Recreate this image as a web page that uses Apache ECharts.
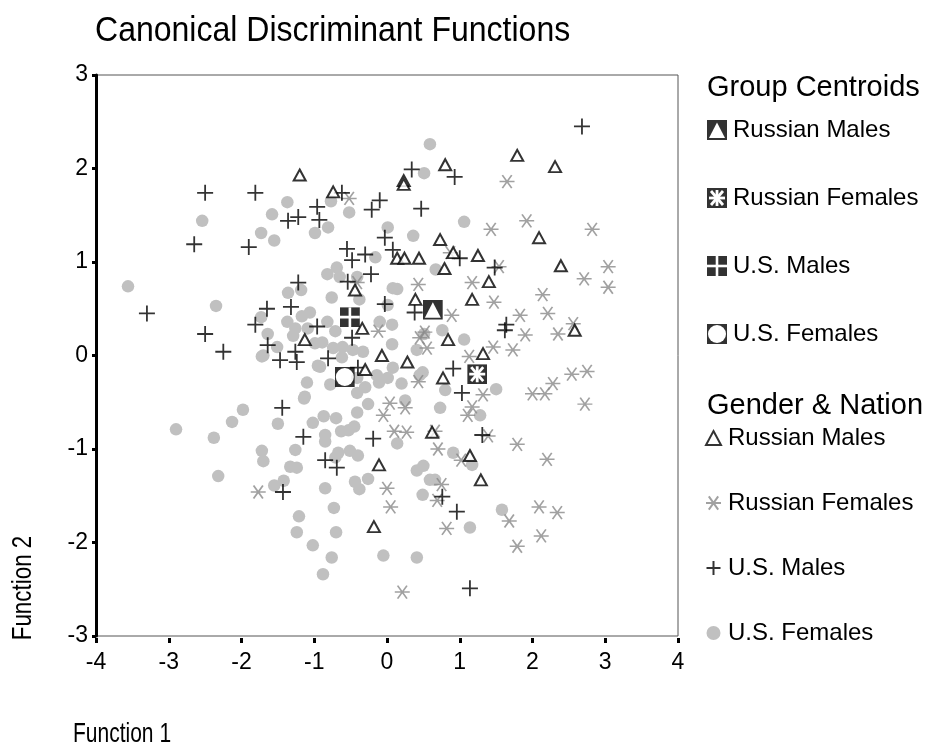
<!DOCTYPE html>
<html><head><meta charset="utf-8">
<script src="https://cdn.jsdelivr.net/npm/echarts@6/dist/echarts.min.js"></script>
<style>html,body{margin:0;padding:0;background:#fff}#c{width:938px;height:751px}</style>
</head><body><div id="c"></div>
<script>
// ---- Data (Function 1, Function 2) ----
const xTickValues = [-4, -3, -2, -1, 0, 1, 2, 3, 4];
const yTickValues = [-3, -2, -1, 0, 1, 2, 3];

const usMales = [
 [2.68,2.45],[-3.3,0.45],[-2.5,1.74],[-1.81,1.74],[-2.65,1.19],[-1.9,1.16],[-2.5,0.23],[-2.25,0.04],
 [-1.65,0.5],[-1.81,0.33],[-1.32,0.52],[-1.22,0.78],[-1.36,1.44],[-1.22,1.48],[-0.96,1.59],[-0.93,1.45],
 [-0.62,1.74],[-0.21,1.56],[-0.1,1.66],[-0.03,1.26],[-0.55,1.14],[-0.48,1.02],[-0.3,1.08],[-0.22,0.87],
 [-0.54,0.79],[-0.03,0.55],[-0.48,0.19],[-1.26,0.04],[-1.64,0.11],[0.34,1.99],[0.93,1.91],[0.47,1.57],
 [0.08,1.13],[0.38,0.46],[1.0,1.04],[1.48,0.94],[1.64,0.33],[1.62,0.27],[0.91,-0.14],[1.03,-0.4],
 [-1.47,-0.05],[-1.24,-0.07],[-0.81,-0.03],[-0.96,0.31],[-1.44,-0.56],[-1.15,-0.87],[-0.19,-0.89],
 [-0.85,-1.12],[-0.69,-1.2],[-1.43,-1.46],[-0.4,-0.13],[0.76,-1.51],[0.96,-1.67],[1.14,-2.49],[1.31,-0.85]
];
const russianMales = [
 [-1.2,1.93],[-0.74,1.75],[0.23,1.87],[0.23,1.83],[0.8,2.04],[1.79,2.14],[2.31,2.02],[2.09,1.26],
 [2.39,0.96],[2.58,0.27],[0.73,1.24],[0.91,1.1],[1.25,1.07],[0.14,1.04],[0.24,1.04],[0.44,1.04],
 [0.79,0.93],[1.4,0.79],[1.17,0.6],[0.39,0.6],[0.84,0.17],[1.32,0.02],[0.28,-0.07],[0.77,-0.24],
 [-0.44,0.7],[-0.34,0.29],[-1.13,0.17],[-0.07,0.0],[-0.3,-0.15],[-0.11,-1.17],[-0.18,-1.83],
 [0.62,-0.82],[1.14,-1.07],[1.29,-1.33]
];
const russianFemales = [
 [1.65,1.86],[1.92,1.44],[2.82,1.35],[1.43,1.35],[1.54,0.95],[3.04,0.95],[2.71,0.82],[3.04,0.73],
 [2.14,0.65],[2.21,0.45],[1.17,0.78],[1.47,0.57],[0.43,0.76],[0.89,0.43],[1.83,0.43],[1.9,0.22],
 [2.35,0.23],[2.56,0.34],[0.87,1.1],[0.52,0.25],[1.46,0.09],[1.73,0.06],[-0.52,1.68],[-0.41,0.78],
 [-0.12,0.26],[1.13,-0.01],[0.55,0.08],[0.45,0.19],[0.43,-0.28],[1.32,-0.42],[2.0,-0.41],[2.17,-0.41],
 [2.28,-0.3],[2.54,-0.2],[2.75,-0.17],[2.72,-0.52],[1.17,-0.55],[1.11,-0.64],[0.04,-0.51],[0.25,-0.56],
 [0.1,-0.81],[0.27,-0.82],[0.66,-0.81],[0.7,-1.0],[1.02,-1.12],[1.39,-0.86],[1.79,-0.95],[2.2,-1.11],
 [0.0,-1.42],[0.05,-1.62],[0.69,-1.55],[0.82,-1.85],[1.68,-1.77],[2.09,-1.62],[2.34,-1.68],[2.12,-1.93],
 [1.79,-2.04],[0.21,-2.53],[0.75,-1.38],[-0.05,-0.64],[-1.77,-1.46]
];
const usFemales = [
 [-3.56,0.74],[-2.54,1.44],[-2.35,0.53],[-1.73,1.31],[-1.55,1.23],[-1.58,1.51],[-1.37,1.64],[-0.99,1.31],
 [-0.81,1.37],[-0.77,1.65],[-0.52,1.53],[0.01,1.37],[-0.16,1.05],[-0.82,0.87],[-0.69,0.94],[-0.65,0.84],
 [-0.41,0.84],[-1.36,0.67],[-1.18,0.7],[-0.76,0.62],[-0.38,0.6],[0.08,0.72],[-1.17,0.42],[-1.06,0.46],
 [-1.37,0.36],[-1.26,0.29],[-1.73,0.41],[-1.64,0.23],[-1.51,0.09],[-1.09,0.29],[-0.82,0.36],[-0.71,0.26],
 [-0.99,0.13],[-0.89,0.14],[-0.1,0.36],[0.07,0.33],[0.07,0.12],
 [0.59,2.26],[0.51,1.95],[1.06,1.43],[0.36,1.28],[0.67,0.92],[0.14,0.71],[0.01,0.54],[0.51,0.23],
 [0.76,0.27],[1.06,0.17],[0.41,0.06],
 [-1.29,0.21],[-1.7,0.0],[-0.74,0.08],[-0.61,0.09],[-0.47,0.06],[-0.33,0.04],[-0.62,-0.02],[0.08,-0.13],
 [-0.95,-0.11],[-1.1,-0.29],[-0.78,-0.31],[-0.41,-0.24],[-0.3,-0.34],[-0.14,-0.21],[-1.13,-0.44],[0.2,-0.3],
 [-1.72,-0.01],[-0.92,-0.12],[-1.14,-0.46],[-0.41,-0.4],[-0.26,-0.52],[-0.41,-0.61],[-0.87,-0.65],
 [-0.7,-0.67],[-1.02,-0.72],[-1.5,-0.73],[-1.98,-0.58],[-2.13,-0.71],[-2.9,-0.79],[-2.38,-0.88],[-2.32,-1.29],
 [-0.85,-0.85],[-0.85,-0.92],[-0.63,-0.81],[-0.53,-0.8],[-0.45,-0.76],[-1.72,-1.02],[-1.7,-1.13],[-1.26,-1.01],
 [-1.33,-1.19],[-1.24,-1.2],[-1.55,-1.39],[-1.42,-1.34],[-0.67,-1.04],[-0.51,-1.02],[-0.4,-1.07],[-0.71,-1.09],
 [-0.85,-1.42],[-0.44,-1.35],[-0.38,-1.43],[-0.26,-1.32],[-0.73,-1.63],[-1.21,-1.72],[-1.24,-1.89],[-0.7,-1.89],
 [-1.02,-2.03],[-0.76,-2.16],[-0.88,-2.34],[-0.05,-2.14],[-0.11,-0.29],[0.01,-0.24],
 [0.14,-0.94],[0.25,-0.48],[0.73,-0.56],[1.28,-0.64],[0.91,-1.04],[1.17,-1.17],[0.41,-1.23],[0.5,-1.18],
 [0.59,-1.33],[0.66,-1.33],[0.49,-1.49],[1.58,-1.65],[1.14,-1.84],[0.41,-2.16],[0.8,-0.37],[0.49,-0.18],
 [0.45,-0.21],[1.5,-0.36]
];
const centroidRussianMales = [[0.63, 0.49]];
const centroidRussianFemales = [[1.24, -0.2]];
const centroidUSMales = [[-0.51, 0.41]];
const centroidUSFemales = [[-0.58, -0.23]];

const groupNames = ['Russian Males', 'Russian Females', 'U.S. Males', 'U.S. Females'];

// ---- Symbols ----
function svgIcon(inner) {
  const s = "<svg xmlns='http://www.w3.org/2000/svg' width='20' height='20' viewBox='0 0 20 20'>" +
    "<rect width='20' height='20' fill='#000'/>" + inner + "</svg>";
  return 'image://data:image/svg+xml;charset=utf-8,' + encodeURIComponent(s);
}
const symRM = svgIcon("<polygon points='10,2.5 2,18 18,18' fill='#fff'/>");
const symRF = svgIcon("<g stroke='#fff' stroke-width='2.8' stroke-linecap='butt'><line x1='2' y1='10' x2='18' y2='10'/><line x1='4' y1='3' x2='16' y2='17'/><line x1='4' y1='17' x2='16' y2='3'/><line x1='10' y1='2' x2='10' y2='18'/></g>");
const symUM = svgIcon("<g stroke='#fff' stroke-width='2.6'><line x1='0' y1='10' x2='20' y2='10'/><line x1='10' y1='0' x2='10' y2='20'/></g>");
const symUF = svgIcon("<circle cx='10' cy='10' r='9' fill='#fff'/>");
const symStar = 'path://M-8,0L8,0M-5,-7L5,7M-5,7L5,-7';
const symPlus = 'path://M-8,0L8,0M0,-8L0,8';

const FONT = "'Liberation Sans', Arial, Helvetica, sans-serif";
const NARROW = "'Liberation Sans Narrow', 'Arial Narrow', 'Liberation Sans', Arial, sans-serif";

const chart = echarts.init(document.getElementById('c'), null, {renderer: 'canvas'});
chart.setOption({
  animation: false,
  backgroundColor: '#fff',
  title: [
    {text: 'Group Centroids', left: 707, top: 73, padding: 0,
     textStyle: {fontFamily: FONT, fontSize: 29, fontWeight: 'normal', color: '#000'}},
    {text: 'Gender & Nation', left: 707, top: 391, padding: 0,
     textStyle: {fontFamily: FONT, fontSize: 29, fontWeight: 'normal', color: '#000'}}
  ],
  legend: [
    {orient: 'vertical', left: 707, top: 118, itemWidth: 20, itemHeight: 20, itemGap: 44, padding: 0,
     selectedMode: false, data: groupNames.map(n => 'c:' + n), formatter: n => n.slice(2),
     textStyle: {fontFamily: FONT, fontSize: 24, color: '#000', lineHeight: 24, padding: [0,0,0,1]}},
    {orient: 'vertical', left: 705, top: 426, itemWidth: 15, itemHeight: 14, itemGap: 41, padding: 0,
     selectedMode: false, data: groupNames,
     textStyle: {fontFamily: FONT, fontSize: 24, color: '#000', lineHeight: 24, padding: [0,0,0,2]}}
  ],
  grid: {left: 96, top: 75, width: 582, height: 561, show: true, borderColor: '#555', borderWidth: 1,
         backgroundColor: 'transparent'},
  xAxis: {type: 'value', min: -4, max: 4, interval: 1, offset: 2,
    axisLine: {show: false, onZero: false},
    axisTick: {show: true, length: 5, lineStyle: {color: '#000', width: 3}},
    splitLine: {show: false},
    axisLabel: {margin: 13, fontSize: 23, color: '#000', fontFamily: NARROW}},
  yAxis: {type: 'value', min: -3, max: 3, interval: 1,
    axisLine: {show: true, onZero: false, lineStyle: {color: '#000', width: 3}},
    axisTick: {show: true, length: 4, lineStyle: {color: '#000', width: 3}},
    splitLine: {show: false},
    axisLabel: {margin: 8, fontSize: 23, color: '#000', fontFamily: NARROW}},
  graphic: [
    {type: 'text', x: 95, y: 31, scaleX: 0.915,
     style: {text: 'Canonical Discriminant Functions', fontFamily: FONT, fontSize: 35, fill: '#000', align: 'left', verticalAlign: 'middle'}},
    {type: 'text', x: 73, y: 734, scaleX: 0.75,
     style: {text: 'Function 1', fontFamily: FONT, fontSize: 28, fill: '#000', align: 'left', verticalAlign: 'middle'}},
    {type: 'text', x: 23, y: 588, rotation: Math.PI / 2, scaleX: 0.8,
     style: {text: 'Function 2', fontFamily: FONT, fontSize: 28, fill: '#000', align: 'center', verticalAlign: 'middle'}}
  ],
  series: [
    {name: 'U.S. Females', type: 'scatter', data: usFemales, symbol: 'circle', symbolSize: 12.5,
     itemStyle: {color: '#c0c0c0', opacity: 1}},
    {name: 'Russian Females', type: 'scatter', data: russianFemales, symbol: symStar, symbolSize: [15, 13],
     itemStyle: {color: '#8a8a8a', borderColor: '#8a8a8a', borderWidth: 1.6}},
    {name: 'U.S. Males', type: 'scatter', data: usMales, symbol: symPlus, symbolSize: 16,
     itemStyle: {color: '#000', borderColor: '#000', borderWidth: 1.8}},
    {name: 'Russian Males', type: 'scatter', data: russianMales, symbol: 'triangle', symbolSize: [12, 11],
     itemStyle: {color: '#fff', borderColor: '#000', borderWidth: 2}},
    {name: 'c:Russian Males', type: 'scatter', data: centroidRussianMales, symbol: symRM, symbolSize: 20},
    {name: 'c:Russian Females', type: 'scatter', data: centroidRussianFemales, symbol: symRF, symbolSize: 20},
    {name: 'c:U.S. Males', type: 'scatter', data: centroidUSMales, symbol: symUM, symbolSize: 20},
    {name: 'c:U.S. Females', type: 'scatter', data: centroidUSFemales, symbol: symUF, symbolSize: 20}
  ]
});
</script></body></html>
